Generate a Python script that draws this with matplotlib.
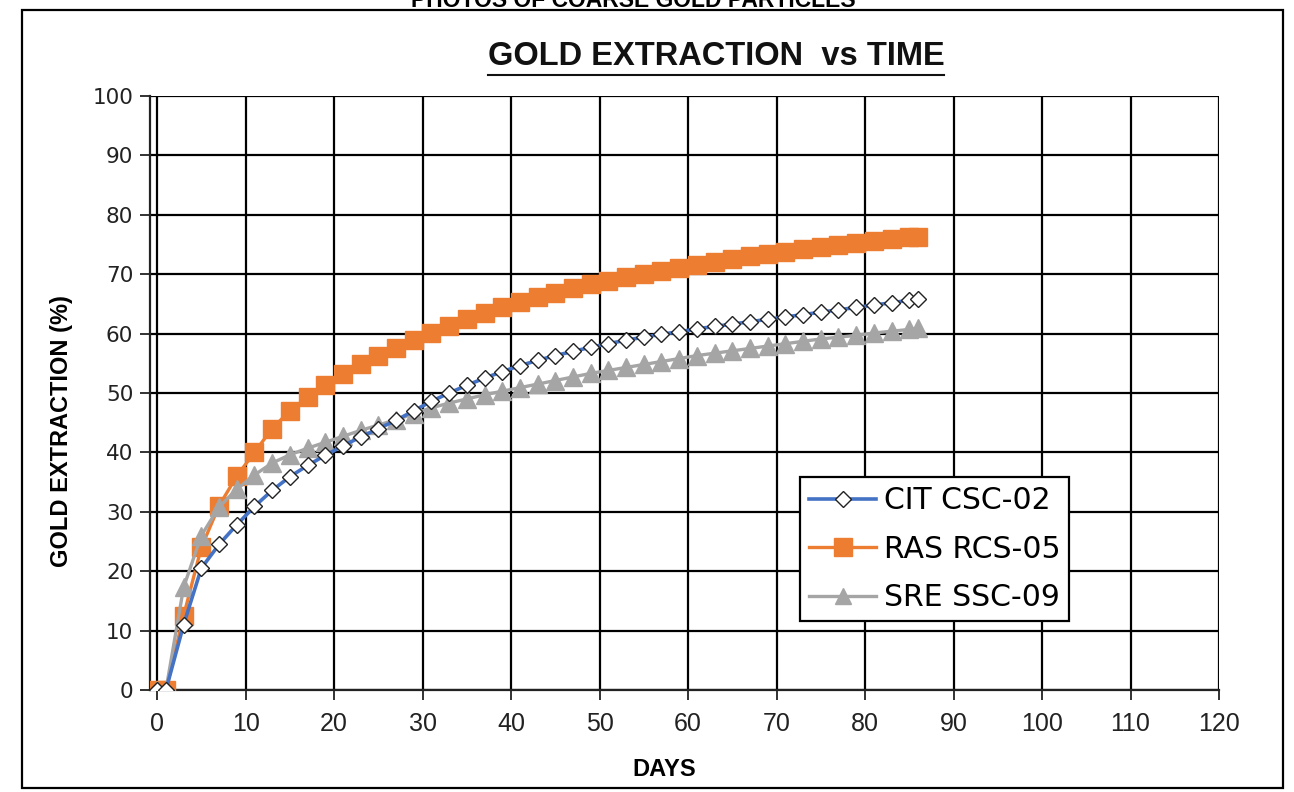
import matplotlib
matplotlib.use('Agg')
import matplotlib.pyplot as plt
from matplotlib.lines import Line2D
from matplotlib.patches import Rectangle

# ---------------------------------------------------------------------
# Data
# ---------------------------------------------------------------------
days = [0, 1, 3, 5, 7, 9, 11, 13, 15, 17, 19, 21, 23, 25, 27, 29,
        31, 33, 35, 37, 39, 41, 43, 45, 47, 49, 51, 53, 55, 57, 59,
        61, 63, 65, 67, 69, 71, 73, 75, 77, 79, 81, 83, 85, 86]

cit_csc02 = [0, 0, 11.0, 20.5, 24.5, 27.8, 30.9, 33.6, 35.9, 37.8, 39.5, 41.1, 42.6, 44.0, 45.4, 47.0,
             48.6, 50.0, 51.3, 52.5, 53.6, 54.6, 55.5, 56.3, 57.0, 57.7, 58.3, 58.9, 59.4, 59.9, 60.3,
             60.8, 61.2, 61.6, 62.0, 62.4, 62.8, 63.2, 63.6, 64.0, 64.4, 64.8, 65.2, 65.6, 65.8]

ras_rcs05 = [0, 0, 12.5, 24.0, 31.0, 36.0, 40.0, 44.0, 47.0, 49.3, 51.3, 53.2, 54.8, 56.3, 57.6, 58.9,
             60.1, 61.3, 62.4, 63.4, 64.4, 65.3, 66.1, 66.9, 67.6, 68.3, 68.9, 69.5, 70.1, 70.6, 71.1,
             71.6, 72.1, 72.6, 73.0, 73.4, 73.8, 74.2, 74.6, 74.9, 75.3, 75.6, 75.9, 76.2, 76.3]

sre_ssc09 = [0, 0, 17.3, 26.0, 30.8, 33.8, 36.2, 38.2, 39.6, 40.7, 41.7, 42.7, 43.7, 44.6, 45.5, 46.5,
             47.5, 48.3, 49.0, 49.7, 50.3, 50.9, 51.5, 52.1, 52.7, 53.3, 53.8, 54.3, 54.8, 55.3, 55.8,
             56.3, 56.7, 57.1, 57.5, 57.9, 58.3, 58.7, 59.1, 59.4, 59.7, 60.1, 60.4, 60.7, 60.9]

series_labels = ['CIT CSC-02', 'RAS RCS-05', 'SRE SSC-09']

x_ticks = [0, 10, 20, 30, 40, 50, 60, 70, 80, 90, 100, 110, 120]
y_ticks = [0, 10, 20, 30, 40, 50, 60, 70, 80, 90, 100]

NARROW = ['Liberation Sans Narrow', 'Liberation Sans', 'DejaVu Sans']
WIDE = ['DejaVu Sans']

BLUE, ORANGE, GREY = '#4472C4', '#ED7D31', '#A5A5A5'

# ---------------------------------------------------------------------
# Figure
# ---------------------------------------------------------------------
W, H = 1294, 792
fig = plt.figure(figsize=(W / 100, H / 100), dpi=100)
fig.patch.set_facecolor('white')

ax = fig.add_axes([150 / W, 1 - 690 / H, (1219 - 150) / W, (690 - 96) / H])

# series: orange below, grey, blue on top
ax.plot(days, ras_rcs05, color=ORANGE, lw=2.4, marker='s', ms=13.5,
        mfc=ORANGE, mec=ORANGE, zorder=3, label=series_labels[1])
ax.plot(days, sre_ssc09, color=GREY, lw=2.4, marker='^', ms=13,
        mfc=GREY, mec=GREY, zorder=4, label=series_labels[2])
ax.plot(days, cit_csc02, color=BLUE, lw=2.6, marker='D', ms=8,
        mfc='white', mec='#222222', mew=1.0, zorder=5, label=series_labels[0])

ax.set_xlim(-0.8, 120)
ax.set_ylim(0, 100)
ax.set_xticks(x_ticks)
ax.set_yticks(y_ticks)
ax.grid(True, color='black', lw=1.6)
ax.set_axisbelow(True)

for side in ['top', 'right']:
    ax.spines[side].set_visible(False)
for side in ['left', 'bottom']:
    ax.spines[side].set_color('#222222')
    ax.spines[side].set_linewidth(1.6)

ax.tick_params(axis='both', direction='out', length=7, width=1.3, color='#222222')
ax.tick_params(axis='y', pad=5)
ax.tick_params(axis='x', pad=9)

for lbl in ax.get_xticklabels():
    lbl.set_family(NARROW)
    lbl.set_fontsize(18)
    lbl.set_color('#222222')
for lbl in ax.get_yticklabels():
    lbl.set_family(WIDE)
    lbl.set_fontsize(15.5)
    lbl.set_color('#222222')

ax.set_xlabel('DAYS', family=NARROW, fontsize=17, fontweight='bold', va='center')
ax.xaxis.set_label_coords((664 - 150) / 1069, (690 - 770) / 594)
ax.set_ylabel('GOLD EXTRACTION (%)', family=NARROW, fontsize=17, fontweight='bold', va='center')
ax.yaxis.set_label_coords((62 - 150) / 1069, (690 - 431) / 594)

# legend
handles = [
    Line2D([0], [0], color=BLUE, lw=2.6, marker='D', ms=8, mfc='white', mec='#222222', mew=1.0),
    Line2D([0], [0], color=ORANGE, lw=2.4, marker='s', ms=13, mfc=ORANGE, mec=ORANGE),
    Line2D([0], [0], color=GREY, lw=2.4, marker='^', ms=12, mfc=GREY, mec=GREY),
]
leg = fig.legend(handles, series_labels, loc='upper left',
                 bbox_to_anchor=(800 / W, 1 - 477 / H),
                 prop={'family': WIDE, 'size': 21.5}, frameon=True, fancybox=False,
                 edgecolor='black', framealpha=1, handlelength=2.25, handletextpad=0.25,
                 labelspacing=0.66, borderpad=0.3, borderaxespad=0)
leg.get_frame().set_linewidth(1.6)
leg.set_zorder(10)

# title (underlined)
title = fig.text(716 / W, 1 - 65 / H, 'GOLD EXTRACTION  vs TIME', family=NARROW,
                 fontsize=23.5, fontweight='bold', ha='center', va='baseline', color='#111111')

# cut-off caption above the frame
fig.text(633 / W, 1 - 7 / H, 'PHOTOS OF COARSE GOLD PARTICLES', family=['Liberation Sans'],
         fontsize=16.5, fontweight='bold', ha='center', va='baseline')

# outer chart frame
fig.add_artist(Rectangle((22 / W, 1 - 788 / H), (1283 - 22) / W, (788 - 10) / H,
                         transform=fig.transFigure, fill=False, edgecolor='black', lw=1.6))

fig.canvas.draw()
bb = title.get_window_extent().transformed(fig.transFigure.inverted())
fig.add_artist(Line2D([bb.x0, bb.x1], [bb.y0 - 3 / H, bb.y0 - 3 / H],
                      transform=fig.transFigure, color='#111111', lw=1.5))

fig.savefig('out.png', dpi=100)
